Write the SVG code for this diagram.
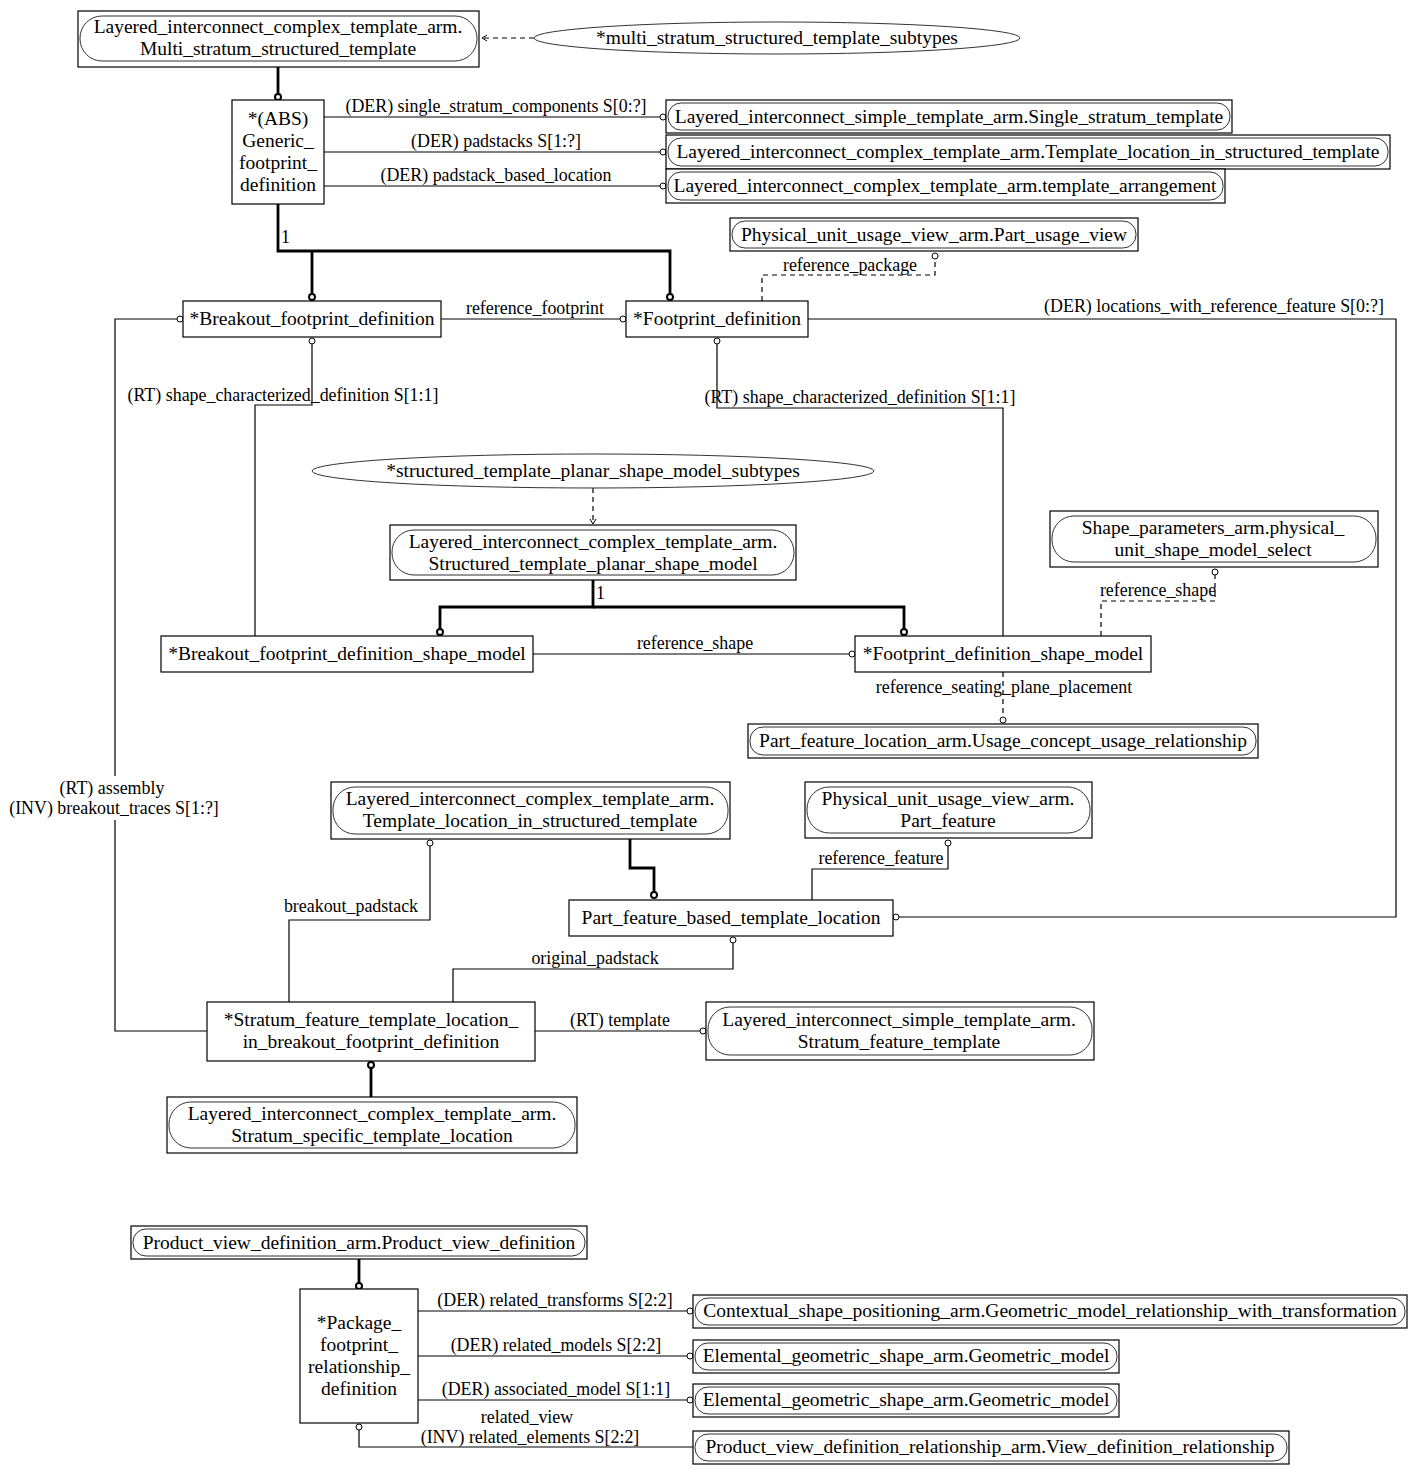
<svg xmlns="http://www.w3.org/2000/svg" width="1417" height="1474" viewBox="0 0 1417 1474">
<defs>
<style>
.t{font-family:"Liberation Serif","Times New Roman",serif;font-size:19.5px;fill:#000;text-anchor:middle}
.l{font-family:"Liberation Serif","Times New Roman",serif;font-size:17.9px;fill:#000;text-anchor:middle}
.box{fill:#fff;stroke:#000;stroke-width:1.2}
.in{fill:none;stroke:#333;stroke-width:1}
.ell{fill:#fff;stroke:#333;stroke-width:1}
.c{fill:none;stroke:#000;stroke-width:1.2}
.d{fill:none;stroke:#000;stroke-width:1.2;stroke-dasharray:5,4}
.k{fill:none;stroke:#000;stroke-width:2.8}
.o{fill:#fff;stroke:#000;stroke-width:1}
.ok{fill:#fff;stroke:#000;stroke-width:2}
</style>
<marker id="arr" markerWidth="10" markerHeight="10" refX="6" refY="5" orient="auto" markerUnits="userSpaceOnUse">
<polyline points="1,2 6,5 1,8" fill="none" stroke="#000" stroke-width="1"/>
</marker>
</defs>
<rect width="1417" height="1474" fill="#fff"/>

<g id="connectors">
<line class="d" x1="534" y1="38" x2="482" y2="38" marker-end="url(#arr)"/>
<line class="k" x1="278" y1="67" x2="278" y2="95"/>
<circle class="ok" cx="278" cy="97" r="3"/>
<line class="c" x1="324" y1="117" x2="663" y2="117"/>
<circle class="o" cx="663" cy="117" r="3"/>
<text class="l" x="496" y="112">(DER) single_stratum_components S[0:?]</text>
<line class="c" x1="324" y1="152" x2="663" y2="152"/>
<circle class="o" cx="663" cy="152" r="3"/>
<text class="l" x="496" y="147">(DER) padstacks S[1:?]</text>
<line class="c" x1="324" y1="186" x2="663" y2="186"/>
<circle class="o" cx="663" cy="186" r="3"/>
<text class="l" x="496" y="181">(DER) padstack_based_location</text>

<polyline class="k" points="278,204 278,251 670,251 670,295"/>
<line class="k" x1="312" y1="251" x2="312" y2="295"/>
<circle class="ok" cx="312" cy="297" r="3"/>
<circle class="ok" cx="670" cy="297" r="3"/>
<text class="l" x="281" y="243" style="text-anchor:start">1</text>

<line class="c" x1="441" y1="319" x2="620" y2="319"/>
<circle class="o" cx="623" cy="319" r="3"/>
<text class="l" x="535" y="314">reference_footprint</text>

<polyline class="c" points="177,319 115,319 115,1031 207,1031"/>
<circle class="o" cx="180" cy="319" r="3"/>
<rect x="40" y="776" width="150" height="44" fill="#fff"/>
<text class="l" x="112" y="794">(RT) assembly</text>
<text class="l" x="114" y="814">(INV) breakout_traces S[1:?]</text>

<polyline class="c" points="312,344 312,405 255,405 255,636"/>
<circle class="o" cx="312" cy="341" r="3"/>
<text class="l" x="283" y="401">(RT) shape_characterized_definition S[1:1]</text>

<polyline class="c" points="717,344 717,408 1003,408 1003,636"/>
<circle class="o" cx="717" cy="341" r="3"/>
<text class="l" x="860" y="403">(RT) shape_characterized_definition S[1:1]</text>

<polyline class="d" points="762,301 762,275 935,275 935,259"/>
<circle class="o" cx="935" cy="256" r="3"/>
<text class="l" x="850" y="271">reference_package</text>

<polyline class="c" points="808,319 1396,319 1396,917 899,917"/>
<circle class="o" cx="896" cy="917" r="3"/>
<text class="l" x="1214" y="312">(DER) locations_with_reference_feature S[0:?]</text>

<line class="d" x1="593" y1="488" x2="593" y2="524" marker-end="url(#arr)"/>

<polyline class="k" points="593,580 593,607 440,607 440,630"/>
<polyline class="k" points="593,607 904,607 904,630"/>
<circle class="ok" cx="440" cy="632" r="3"/>
<circle class="ok" cx="904" cy="632" r="3"/>
<text class="l" x="596" y="599" style="text-anchor:start">1</text>

<line class="c" x1="533" y1="654" x2="849" y2="654"/>
<circle class="o" cx="852" cy="654" r="3"/>
<text class="l" x="695" y="649">reference_shape</text>

<polyline class="d" points="1101,636 1101,601 1215,601 1215,575"/>
<circle class="o" cx="1215" cy="572" r="3"/>
<text class="l" x="1158" y="596">reference_shape</text>

<line class="d" x1="1003" y1="672" x2="1003" y2="717"/>
<circle class="o" cx="1003" cy="720" r="3"/>
<text class="l" x="1004" y="693">reference_seating_plane_placement</text>

<polyline class="k" points="630,839 630,868 654,868 654,892"/>
<circle class="ok" cx="654" cy="895" r="3"/>

<polyline class="c" points="812,900 812,869 948,869 948,846"/>
<circle class="o" cx="948" cy="843" r="3"/>
<text class="l" x="881" y="864">reference_feature</text>

<polyline class="c" points="430,846 430,920 289,920 289,1002"/>
<circle class="o" cx="430" cy="843" r="3"/>
<text class="l" x="351" y="912">breakout_padstack</text>

<polyline class="c" points="733,943 733,969 453,969 453,1002"/>
<circle class="o" cx="733" cy="940" r="3"/>
<text class="l" x="595" y="964">original_padstack</text>

<line class="c" x1="535" y1="1031" x2="700" y2="1031"/>
<circle class="o" cx="703" cy="1031" r="3"/>
<text class="l" x="620" y="1026">(RT) template</text>

<line class="k" x1="371" y1="1068" x2="371" y2="1097"/>
<circle class="ok" cx="371" cy="1065" r="3"/>

<line class="k" x1="359" y1="1259" x2="359" y2="1283"/>
<circle class="ok" cx="359" cy="1286" r="3"/>

<line class="c" x1="418" y1="1311" x2="687" y2="1311"/>
<circle class="o" cx="690" cy="1311" r="3"/>
<text class="l" x="555" y="1306">(DER) related_transforms S[2:2]</text>
<line class="c" x1="418" y1="1356" x2="687" y2="1356"/>
<circle class="o" cx="690" cy="1356" r="3"/>
<text class="l" x="556" y="1351">(DER) related_models S[2:2]</text>
<line class="c" x1="418" y1="1400" x2="687" y2="1400"/>
<circle class="o" cx="690" cy="1400" r="3"/>
<text class="l" x="556" y="1395">(DER) associated_model S[1:1]</text>
<polyline class="c" points="359,1430 359,1447 693,1447"/>
<circle class="o" cx="359" cy="1427" r="3"/>
<text class="l" x="527" y="1423">related_view</text>
<text class="l" x="530" y="1443">(INV) related_elements S[2:2]</text>
</g>

<g id="n_multi_stratum_structured_template">
<rect class="box" x="78" y="11" width="401" height="56"/>
<rect class="in" x="80" y="16" width="397" height="45" rx="22"/>
<text class="t" x="278" y="33">Layered_interconnect_complex_template_arm.</text>
<text class="t" x="278" y="55">Multi_stratum_structured_template</text>
</g>
<g id="n_multi_stratum_subtypes">
<ellipse class="ell" cx="777" cy="38" rx="243" ry="16"/>
<text class="t" x="777" y="44">*multi_stratum_structured_template_subtypes</text>
</g>
<g id="n_generic_footprint_definition">
<rect class="box" x="232" y="100" width="92" height="104"/>
<text class="t" x="278" y="125">*(ABS)</text>
<text class="t" x="278" y="147">Generic_</text>
<text class="t" x="278" y="169">footprint_</text>
<text class="t" x="278" y="191">definition</text>
</g>
<g id="n_single_stratum_template">
<rect class="box" x="666" y="100" width="566" height="33"/>
<rect class="in" x="668" y="103" width="562" height="27" rx="13"/>
<text class="t" x="949" y="123">Layered_interconnect_simple_template_arm.Single_stratum_template</text>
</g>
<g id="n_template_location_top">
<rect class="box" x="666" y="135" width="724" height="34"/>
<rect class="in" x="668" y="138" width="720" height="28" rx="13"/>
<text class="t" x="1028" y="158">Layered_interconnect_complex_template_arm.Template_location_in_structured_template</text>
</g>
<g id="n_template_arrangement">
<rect class="box" x="666" y="169" width="559" height="34"/>
<rect class="in" x="668" y="172" width="555" height="28" rx="13"/>
<text class="t" x="945" y="192">Layered_interconnect_complex_template_arm.template_arrangement</text>
</g>
<g id="n_part_usage_view">
<rect class="box" x="730" y="218" width="408" height="33"/>
<rect class="in" x="732" y="221" width="404" height="27" rx="13"/>
<text class="t" x="934" y="241">Physical_unit_usage_view_arm.Part_usage_view</text>
</g>
<g id="n_breakout_footprint_definition">
<rect class="box" x="183" y="301" width="258" height="36"/>
<text class="t" x="312" y="325">*Breakout_footprint_definition</text>
</g>
<g id="n_footprint_definition">
<rect class="box" x="626" y="301" width="182" height="36"/>
<text class="t" x="717" y="325">*Footprint_definition</text>
</g>
<g id="n_stpsm_subtypes">
<ellipse class="ell" cx="593" cy="471" rx="281" ry="17"/>
<text class="t" x="593" y="477">*structured_template_planar_shape_model_subtypes</text>
</g>
<g id="n_structured_template_planar_shape_model">
<rect class="box" x="390" y="525" width="406" height="55"/>
<rect class="in" x="392" y="530" width="402" height="45" rx="22"/>
<text class="t" x="593" y="548">Layered_interconnect_complex_template_arm.</text>
<text class="t" x="593" y="570">Structured_template_planar_shape_model</text>
</g>
<g id="n_breakout_footprint_definition_shape_model">
<rect class="box" x="161" y="636" width="372" height="36"/>
<text class="t" x="347" y="660">*Breakout_footprint_definition_shape_model</text>
</g>
<g id="n_footprint_definition_shape_model">
<rect class="box" x="855" y="636" width="296" height="36"/>
<text class="t" x="1003" y="660">*Footprint_definition_shape_model</text>
</g>
<g id="n_physical_unit_shape_model_select">
<rect class="box" x="1050" y="511" width="328" height="56"/>
<rect class="in" x="1052" y="516" width="324" height="46" rx="22"/>
<text class="t" x="1213" y="534">Shape_parameters_arm.physical_</text>
<text class="t" x="1213" y="556">unit_shape_model_select</text>
</g>
<g id="n_usage_concept_usage_relationship">
<rect class="box" x="748" y="724" width="510" height="34"/>
<rect class="in" x="750" y="727" width="506" height="28" rx="13"/>
<text class="t" x="1003" y="747">Part_feature_location_arm.Usage_concept_usage_relationship</text>
</g>
<g id="n_template_location_mid">
<rect class="box" x="331" y="782" width="399" height="57"/>
<rect class="in" x="333" y="787" width="395" height="47" rx="22"/>
<text class="t" x="530" y="805">Layered_interconnect_complex_template_arm.</text>
<text class="t" x="530" y="827">Template_location_in_structured_template</text>
</g>
<g id="n_part_feature">
<rect class="box" x="805" y="782" width="287" height="56"/>
<rect class="in" x="807" y="787" width="283" height="46" rx="22"/>
<text class="t" x="948" y="805">Physical_unit_usage_view_arm.</text>
<text class="t" x="948" y="827">Part_feature</text>
</g>
<g id="n_part_feature_based_template_location">
<rect class="box" x="569" y="900" width="324" height="36"/>
<text class="t" x="731" y="924">Part_feature_based_template_location</text>
</g>
<g id="n_stratum_feature_template_location">
<rect class="box" x="207" y="1002" width="328" height="59"/>
<text class="t" x="371" y="1026">*Stratum_feature_template_location_</text>
<text class="t" x="371" y="1048">in_breakout_footprint_definition</text>
</g>
<g id="n_stratum_feature_template">
<rect class="box" x="706" y="1002" width="388" height="58"/>
<rect class="in" x="708" y="1007" width="384" height="48" rx="22"/>
<text class="t" x="899" y="1026">Layered_interconnect_simple_template_arm.</text>
<text class="t" x="899" y="1048">Stratum_feature_template</text>
</g>
<g id="n_stratum_specific_template_location">
<rect class="box" x="167" y="1097" width="410" height="56"/>
<rect class="in" x="169" y="1102" width="406" height="46" rx="22"/>
<text class="t" x="372" y="1120">Layered_interconnect_complex_template_arm.</text>
<text class="t" x="372" y="1142">Stratum_specific_template_location</text>
</g>
<g id="n_product_view_definition">
<rect class="box" x="131" y="1226" width="456" height="33"/>
<rect class="in" x="133" y="1229" width="452" height="27" rx="13"/>
<text class="t" x="359" y="1249">Product_view_definition_arm.Product_view_definition</text>
</g>
<g id="n_package_footprint_relationship_definition">
<rect class="box" x="300" y="1289" width="118" height="134"/>
<text class="t" x="359" y="1329">*Package_</text>
<text class="t" x="359" y="1351">footprint_</text>
<text class="t" x="359" y="1373">relationship_</text>
<text class="t" x="359" y="1395">definition</text>
</g>
<g id="n_geometric_model_relationship_with_transformation">
<rect class="box" x="693" y="1295" width="714" height="33"/>
<rect class="in" x="695" y="1298" width="710" height="27" rx="13"/>
<text class="t" x="1050" y="1317">Contextual_shape_positioning_arm.Geometric_model_relationship_with_transformation</text>
</g>
<g id="n_geometric_model_1">
<rect class="box" x="693" y="1340" width="426" height="33"/>
<rect class="in" x="695" y="1343" width="422" height="27" rx="13"/>
<text class="t" x="906" y="1362">Elemental_geometric_shape_arm.Geometric_model</text>
</g>
<g id="n_geometric_model_2">
<rect class="box" x="693" y="1384" width="426" height="33"/>
<rect class="in" x="695" y="1387" width="422" height="27" rx="13"/>
<text class="t" x="906" y="1406">Elemental_geometric_shape_arm.Geometric_model</text>
</g>
<g id="n_view_definition_relationship">
<rect class="box" x="693" y="1431" width="596" height="33"/>
<rect class="in" x="695" y="1434" width="592" height="27" rx="13"/>
<text class="t" x="990" y="1453">Product_view_definition_relationship_arm.View_definition_relationship</text>
</g>
</svg>
